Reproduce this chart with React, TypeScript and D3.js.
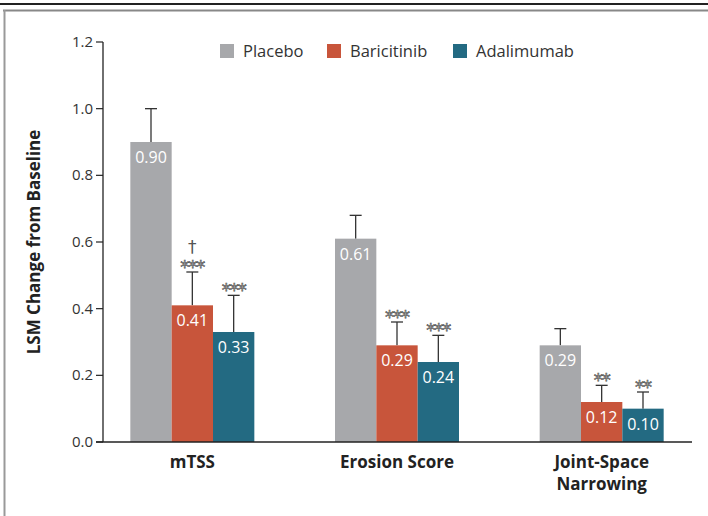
import React from "react";
import * as d3 from "d3";

const categories = ["mTSS", "Erosion Score", "Joint-Space Narrowing"];
const categoryLines = [["mTSS"], ["Erosion Score"], ["Joint-Space", "Narrowing"]];
const seriesNames = ["Placebo", "Baricitinib", "Adalimumab"];
const seriesColors = ["#a7a8ab", "#c8553b", "#236a82"];
const placebo = [0.90, 0.61, 0.29];
const baricitinib = [0.41, 0.29, 0.12];
const adalimumab = [0.33, 0.24, 0.10];
const placeboErr = [1.00, 0.68, 0.34];
const baricitinibErr = [0.51, 0.36, 0.17];
const adalimumabErr = [0.44, 0.32, 0.15];
const placeboSig = ["", "", ""];
const baricitinibSig = ["***", "***", "**"];
const adalimumabSig = ["***", "***", "**"];
const baricitinibDagger = ["†", "", ""];
const yTicks = [0, 0.2, 0.4, 0.6, 0.8, 1.0, 1.2];

const W = 708, H = 516;
const FONT = "'Open Sans', 'Noto Sans', sans-serif";

export default function App() {
  const values = [placebo, baricitinib, adalimumab];
  const errs = [placeboErr, baricitinibErr, adalimumabErr];
  const sigs = [placeboSig, baricitinibSig, adalimumabSig];
  const daggers = [["", "", ""], baricitinibDagger, ["", "", ""]];

  const y = d3.scaleLinear().domain([0, 1.2]).range([442, 42]);
  const x0 = d3.scaleBand().domain(categories).range([90, 704]).paddingInner(0.0).paddingOuter(0);
  const groupW = 124;
  const x1 = d3.scaleBand().domain(seriesNames).range([0, groupW]);
  const offset = (x0.bandwidth() - groupW) / 2;

  return (
    <svg width={W} height={H} style={{ position: "absolute", left: 0, top: 0, background: "#fff" }} fontFamily={FONT}>
      <rect x={0} y={0} width={W} height={H} fill="#fff" />
      <line x1={0} x2={W} y1={4} y2={4} stroke="#222" strokeWidth={2} />
      <line x1={3} x2={W} y1={10.5} y2={10.5} stroke="#888" strokeWidth={2} />
      <line x1={4.5} x2={4.5} y1={10} y2={H} stroke="#999" strokeWidth={2} />

      {/* legend */}
      {seriesNames.map((s, i) => {
        const lx = [220, 327, 453][i];
        return (
          <g key={s}>
            <rect x={lx} y={44} width={14} height={14} fill={seriesColors[i]} />
            <text x={lx + 23} y={57} fontSize={16.5} fill="#333">{s}</text>
          </g>
        );
      })}

      {/* bars */}
      {categories.map((c, ci) => (
        <g key={c}>
          {seriesNames.map((s, si) => {
            const bx = (x0(c) as number) + offset + (x1(s) as number);
            const bw = x1.bandwidth();
            const v = values[si][ci];
            const e = errs[si][ci];
            const cx = bx + bw / 2;
            return (
              <g key={s}>
                <line x1={cx} x2={cx} y1={y(v)} y2={y(e)} stroke="#333" strokeWidth={1.3} />
                <line x1={cx - 6} x2={cx + 6} y1={y(e)} y2={y(e)} stroke="#333" strokeWidth={1.3} />
                <rect x={bx} y={y(v)} width={bw} height={y(0) - y(v)} fill={seriesColors[si]} />
                <text x={cx} y={y(v) + 21} textAnchor="middle" fontSize={16} fill="#fff">{v.toFixed(2)}</text>
                {sigs[si][ci] && (
                  <text x={cx} y={y(e) + 1} textAnchor="middle" fontSize={18} fontFamily="'DejaVu Sans', sans-serif" fill="#fff" stroke="#444" strokeWidth={0.6} letterSpacing={-1}>{sigs[si][ci]}</text>
                )}
                {daggers[si][ci] && (
                  <text x={cx} y={y(e) - 19} textAnchor="middle" fontSize={17} fontFamily="'DejaVu Sans', sans-serif" fill="#555">{daggers[si][ci]}</text>
                )}
              </g>
            );
          })}
        </g>
      ))}

      {/* axes */}
      <line x1={103} x2={103} y1={y(1.2)} y2={y(0)} stroke="#222" strokeWidth={1.3} />
      <line x1={96} x2={692} y1={y(0)} y2={y(0)} stroke="#222" strokeWidth={1.3} />
      {yTicks.map((t) => (
        <g key={t}>
          <line x1={96} x2={103} y1={y(t)} y2={y(t)} stroke="#222" strokeWidth={1.2} />
          <text x={93} y={y(t) + 5} textAnchor="end" fontSize={15} fill="#333">{t.toFixed(1)}</text>
        </g>
      ))}
      <text transform={`translate(40, ${y(0.6)}) rotate(-90)`} textAnchor="middle" fontSize={17} fontWeight="bold" fill="#222">LSM Change from Baseline</text>

      {categories.map((c, ci) =>
        categoryLines[ci].map((l, li) => (
          <text key={c + l} x={(x0(c) as number) + x0.bandwidth() / 2} y={468 + li * 21.5} textAnchor="middle" fontSize={17} fontWeight="bold" fill="#222">{l}</text>
        ))
      )}
    </svg>
  );
}
